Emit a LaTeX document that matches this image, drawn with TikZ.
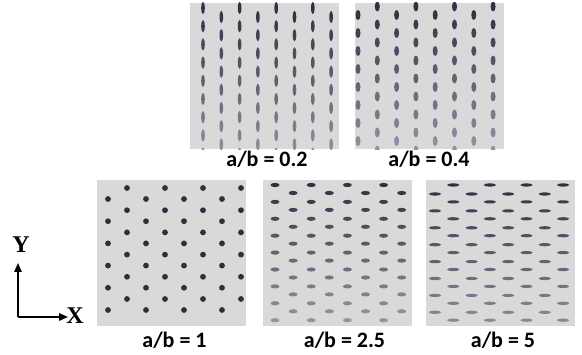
\documentclass[tikz,border=0pt]{standalone}
\usepackage{fontspec}
\setmainfont{Carlito}
\newfontfamily\axfont{Liberation Serif}
\usetikzlibrary{arrows.meta, positioning}
\definecolor{bgpan}{HTML}{D9D9D9}
\definecolor{dotd}{HTML}{283142}
\definecolor{dotl}{HTML}{A0A8B6}
\tikzset{
  panel/.style = {rectangle, fill=bgpan, minimum width=149pt,
                  minimum height=146pt, inner sep=0pt},
  lbl/.style   = {font=\fontsize{22}{24}\selectfont\bfseries, inner sep=0pt},
  axl/.style   = {font=\fontsize{24}{26}\selectfont\axfont\bfseries, inner sep=0pt},
  arr/.style   = {-{Triangle[length=9pt,width=7.5pt]}, line width=1.4pt},
}

\begin{document}
\begin{tikzpicture}[x=1pt, y=-1pt]
  \useasboundingbox (0,0) rectangle (582,355);

  % ── panels
  \node[panel] (p02) at (264,76)      {};
  \node[panel] (p04) at (429,76)      {};
  \node[panel] (p1)  at (171.5,253.5) {};
  \node[panel] (p25) at (337.5,253.5) {};
  \node[panel] (p5)  at (500,253.5)   {};

  % ── labels
  \node[lbl, below=2pt of p02, xshift=3pt]  (l02) {a/b = 0.2};
  \node[lbl, below=2pt of p04]              (l04) {a/b = 0.4};
  \node[lbl, below=5pt of p1, xshift=3pt]   (l1)  {a/b = 1};
  \node[lbl, below=5pt of p25, xshift=7pt]  (l25) {a/b = 2.5};
  \node[lbl, below=5pt of p5, xshift=3pt]   (l5)  {a/b = 5};

  % ── a/b = 0.2
  \begin{scope}
    \clip (p02.south west) rectangle (p02.north east);
    \foreach \i in {0,...,7}{
      \foreach \k in {0,...,8}{
        \pgfmathsetmacro\yy{8+9*mod(\i,2)+18.2*\k}
        \pgfmathtruncatemacro\mm{(\yy-3)/146*80}
        \fill[dotl!\mm!dotd] (203+18.3*\i,\yy) ellipse (1.8pt and 6.2pt);
      }
    }
  \end{scope}

  % ── a/b = 0.4
  \begin{scope}
    \clip (p04.south west) rectangle (p04.north east);
    \foreach \i in {0,...,7}{
      \foreach \k in {0,...,8}{
        \pgfmathsetmacro\yy{6.5+8.5*(1-mod(\i,2))+18*\k}
        \pgfmathtruncatemacro\mm{(\yy-3)/146*85}
        \fill[dotl!\mm!dotd] (358+19.3*\i,\yy) ellipse (2.5pt and 5pt);
      }
    }
  \end{scope}

  % ── a/b = 1
  \foreach \i in {0,...,7}{
    \foreach \k in {0,...,6}{
      \pgfmathsetmacro\yy{188+11*(1-mod(\i,2))+22.2*\k}
      \ifdim\yy pt<318pt
        \fill[dotd] (108+19*\i,\yy) circle (2.9pt);
      \fi
    }
  }

  % ── a/b = 2.5
  \foreach \i in {0,...,7}{
    \foreach \k in {0,...,8}{
      \pgfmathsetmacro\yy{185+8*mod(\i,2)+16.9*\k}
      \pgfmathtruncatemacro\mm{(\yy-181)/145*90}
      \ifdim\yy pt<322pt
        \fill[dotl!\mm!dotd] (275+18.1*\i,\yy) ellipse (4.5pt and 2.1pt);
      \fi
    }
  }

  % ── a/b = 5
  \foreach \i in {0,...,7}{
    \foreach \k in {0,...,8}{
      \pgfmathsetmacro\yy{185+9*(1-mod(\i,2))+16.9*\k}
      \pgfmathtruncatemacro\mm{(\yy-181)/145*80}
      \ifdim\yy pt<322pt
        \fill[dotl!\mm!dotd] (435+18.3*\i,\yy) ellipse (6.2pt and 1.6pt);
      \fi
    }
  }

  % ── axes
  \coordinate (o)  at (18,317);
  \coordinate (yt) at (18,263);
  \coordinate (xt) at (68,317);
  \draw[arr] (o) -- (yt);
  \draw[arr] (o) -- (xt);
  \node[axl] (ylab) at (21,245) {Y};
  \node[axl] (xlab) at (75,316) {X};

\end{tikzpicture}
\end{document}
